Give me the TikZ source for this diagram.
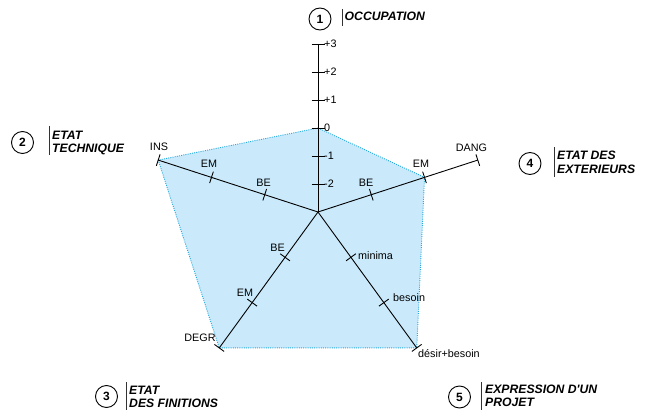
\documentclass[tikz,border=0pt]{standalone}
\usepackage{fontspec}
\setmainfont{Liberation Sans}
\usetikzlibrary{calc}
\definecolor{radarfill}{RGB}{202,234,252}
\definecolor{radarline}{RGB}{40,170,220}
\tikzset{
  axisline/.style={black, line width=0.9pt},
  tickmark/.style={black, line width=0.9pt},
  outline/.style={draw=radarline, fill=radarfill, line width=0.9pt, dash pattern=on 1pt off 1.2pt},
  lab/.style={font=\fontsize{10.8}{12}\selectfont, inner sep=0pt},
  ttl/.style={font=\fontsize{12.2}{13}\selectfont\bfseries\itshape, inner sep=0pt, anchor=base west},
  bar/.style={black!80, line width=0.8pt},
  num/.style={circle, draw, line width=0.9pt, minimum size=22pt, inner sep=0pt, font=\fontsize{12}{12}\selectfont\bfseries},
}
\begin{document}
\begin{tikzpicture}[x=1pt,y=-1pt]
\useasboundingbox (0,0) rectangle (646,412);
\coordinate (C) at (318,212);
% axis end points
\coordinate (E1) at ($(C)+(-90:168)$);
\coordinate (E2) at ($(C)+(198:168)$);
\coordinate (E3) at ($(C)+(126:168)$);
\coordinate (E4) at ($(C)+(-18:168)$);
\coordinate (E5) at ($(C)+(54:168)$);
% profile polygon
\coordinate (P1) at ($(C)+(-90:84)$);
\coordinate (P4) at ($(C)+(-18:112)$);
\path[outline] (P1) -- (E2) -- (E3) -- (E5) -- (P4) -- cycle;
% axes
\foreach \e in {E1,E2,E3,E4,E5} \draw[axisline] (C) -- (\e);
% ticks on axis 1
\foreach \k in {1,...,6} {
  \coordinate (T1\k) at ($(C)+(-90:28*\k)$);
  \draw[tickmark] ($(T1\k)+(-6.5,0)$) -- ($(T1\k)+(6.5,0)$);
}
% ticks on the other axes
\foreach \ax/\ang in {2/198,3/126,4/-18,5/54} {
  \foreach \k in {2,4,6} {
    \coordinate (T\ax\k) at ($(C)+(\ang:28*\k)$);
    \draw[tickmark] ($(T\ax\k)+(\ang+90:6)$) -- ($(T\ax\k)+(\ang-90:6)$);
  }
}
% axis 1 labels
\foreach \k/\t in {1/-2,2/-1,3/0,4/+1,5/+2,6/+3}
  \node[lab, anchor=west] (L1\k) at ($(T1\k)+(6,0)$) {\t};
% axis 2 labels
\node[lab, anchor=base] (L26) at (159,150) {INS};
\node[lab, anchor=base] (L24) at (209,167) {EM};
\node[lab, anchor=base] (L22) at (263.5,186) {BE};
% axis 4 labels
\node[lab, anchor=base] (L42) at (366,186) {BE};
\node[lab, anchor=base] (L44) at (421,167) {EM};
\node[lab, anchor=base] (L46) at (471.5,151) {DANG};
% axis 3 labels
\node[lab, anchor=base] (L32) at (277.5,251) {BE};
\node[lab, anchor=base] (L34) at (245,296) {EM};
\node[lab, anchor=base] (L36) at (200,341) {DEGR};
% axis 5 labels
\node[lab, anchor=base west] (L52) at (358,259.5) {minima};
\node[lab, anchor=base west] (L54) at (393,301) {besoin};
\node[lab, anchor=base west] (L56) at (418,357) {désir+besoin};
% criterion titles
\node[num] (N1) at (320,19) {1};
\draw[bar] (342,9) -- (342,26);
\node[ttl] (A1) at (344.5,21) {OCCUPATION};

\node[num] (N2) at (22.5,142.5) {2};
\draw[bar] (49,126) -- (49,155);
\node[ttl] (A2a) at (52,139.5) {ETAT};
\node[ttl] (A2b) at (52,153) {TECHNIQUE};

\node[num] (N4) at (530,163.5) {4};
\draw[bar] (554,147) -- (554,177);
\node[ttl] (A4a) at (557,159.5) {ETAT DES};
\node[ttl] (A4b) at (557,173) {EXTERIEURS};

\node[num] (N3) at (106.5,396.5) {3};
\draw[bar] (126,382) -- (126,410);
\node[ttl] (A3a) at (129,394) {ETAT};
\node[ttl] (A3b) at (129,407) {DES FINITIONS};

\node[num] (N5) at (459.5,397) {5};
\draw[bar] (481,382) -- (481,410);
\node[ttl] (A5a) at (485,393) {EXPRESSION D\textquotesingle UN};
\node[ttl] (A5b) at (485,406) {PROJET};
\end{tikzpicture}
\end{document}
